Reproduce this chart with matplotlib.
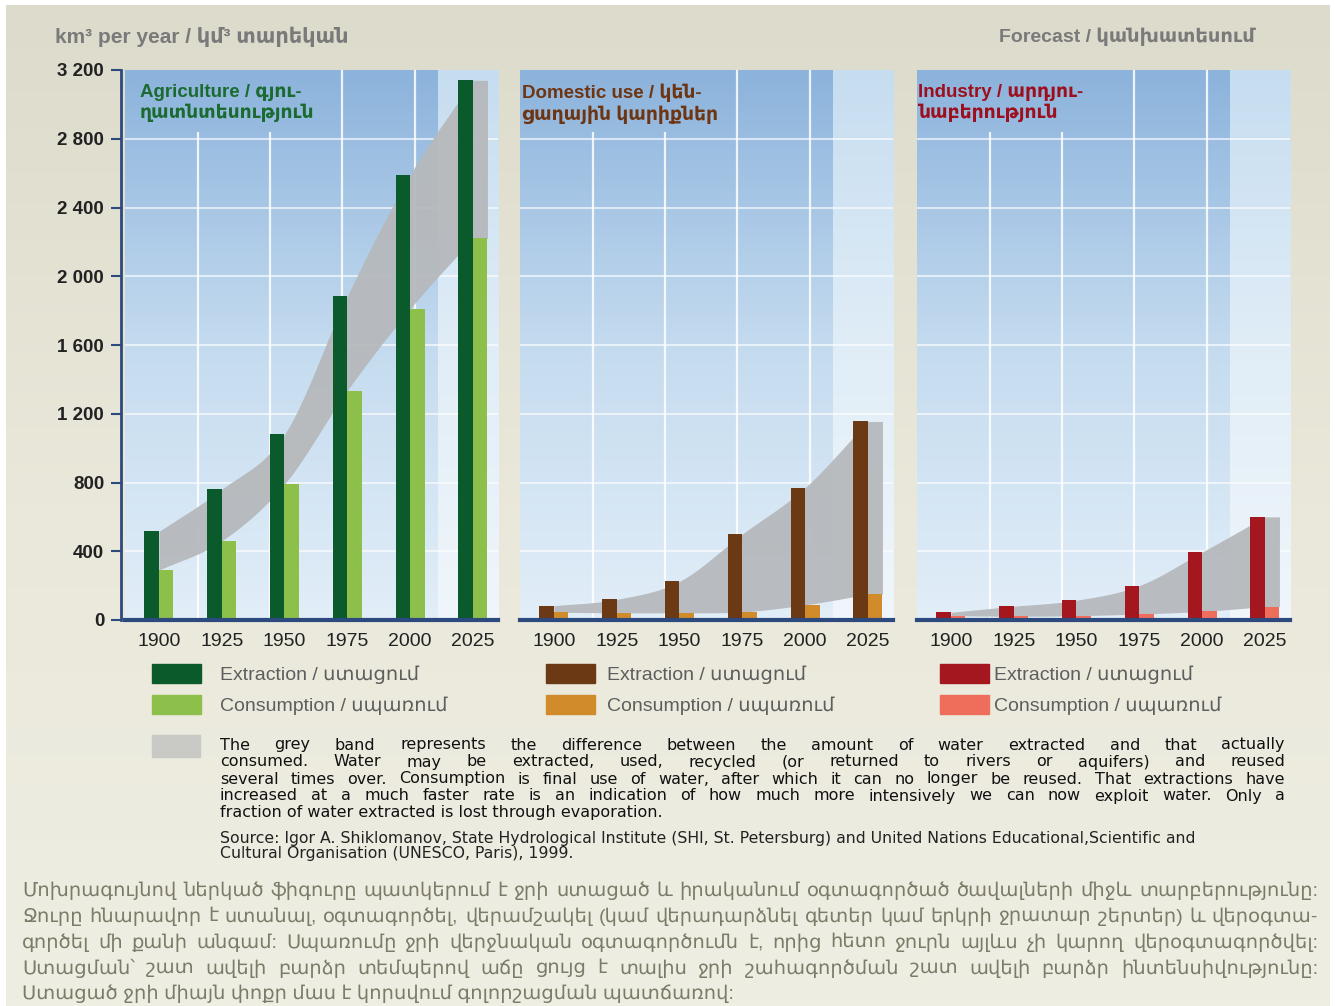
import matplotlib

matplotlib.use("Agg")
import matplotlib.pyplot as plt
import numpy as np
from matplotlib.colors import LinearSegmentedColormap
from matplotlib.patches import Patch, Rectangle

plt.rcParams["font.family"] = ["Liberation Sans", "DejaVu Sans"]

W, H = 1335, 1006

# --- data (km3 per year) ---
YEARS = [1900, 1925, 1950, 1975, 2000, 2025]
AGRI_EXTRACTION = [515, 760, 1080, 1885, 2590, 3140]
AGRI_CONSUMPTION = [290, 460, 790, 1335, 1810, 2220]
DOM_EXTRACTION = [83, 120, 225, 500, 770, 1155]
DOM_CONSUMPTION = [45, 42, 42, 47, 88, 150]
IND_EXTRACTION = [45, 80, 115, 200, 395, 600]
IND_CONSUMPTION = [25, 22, 25, 35, 50, 78]
Y_TICKS = [0, 400, 800, 1200, 1600, 2000, 2400, 2800, 3200]

PANEL_TITLES = [
    "Agriculture / գյու-\nղատնտեսություն",
    "Domestic use / կեն-\nցաղային կարիքներ",
    "Industry / արդյու-\nնաբերություն",
]
LEGEND_LABELS = ["Extraction / ստացում", "Consumption / սպառում"]

NOTE_LINES = [
    "The grey band represents the difference between the amount of water extracted and that actually",
    "consumed. Water may be extracted, used, recycled (or returned to rivers or aquifers) and reused",
    "several times over. Consumption is final use of water, after which it can no longer be reused. That extractions have",
    "increased at a much faster rate is an indication of how much more intensively we can now exploit water. Only a",
    "fraction of water extracted is lost through evaporation.",
]
SOURCE_LINES = [
    "Source: Igor A. Shiklomanov, State Hydrological Institute (SHI, St. Petersburg) and United Nations Educational,Scientific and",
    "Cultural Organisation (UNESCO, Paris), 1999.",
]
ARM_LINES = [
    "Մոխրագույնով ներկած ֆիգուրը պատկերում է ջրի ստացած և իրականում օգտագործած ծավալների միջև տարբերությունը:",
    "Ջուրը հնարավոր է ստանալ, օգտագործել, վերամշակել (կամ վերադարձնել գետեր կամ երկրի ջրատար շերտեր) և վերօգտա-",
    "գործել մի քանի անգամ: Սպառումը ջրի վերջնական օգտագործումն է, որից հետո ջուրն այլևս չի կարող վերօգտագործվել:",
    "Ստացման՝ շատ ավելի բարձր տեմպերով աճը ցույց է տալիս ջրի շահագործման շատ ավելի բարձր ինտենսիվությունը:",
    "Ստացած ջրի միայն փոքր մաս է կորսվում գոլորշացման պատճառով:",
]

PANELS = [
    (AGRI_EXTRACTION, AGRI_CONSUMPTION, "#0b5a2c", "#8dc04b", "#1b6b31"),
    (DOM_EXTRACTION, DOM_CONSUMPTION, "#6b3914", "#d18b2a", "#6e3512"),
    (IND_EXTRACTION, IND_CONSUMPTION, "#a5171e", "#ef6e5b", "#9e0f1d"),
]

NAVY = "#2c4a7e"
BAND = "#b6b9bc"
XMIN, XMAX, FORECAST_X = 1886.5, 2035, 2011
GRID_X_SHORT = [1915.5, 1944.3]   # stop below the panel title
GRID_X_FULL = [1973.0, 2002.0]
BAR_W = 5.8


def smooth(xs, ys, n=30):
    """Cubic Hermite (Catmull-Rom tangents) curve through the points, for the band."""
    xs, ys = np.asarray(xs, float), np.asarray(ys, float)
    m = np.gradient(ys, xs)
    out_x, out_y = [], []
    for i in range(len(xs) - 1):
        h = xs[i + 1] - xs[i]
        t = np.linspace(0, 1, n, endpoint=False)
        h00 = 2 * t**3 - 3 * t**2 + 1
        h10 = t**3 - 2 * t**2 + t
        h01 = -2 * t**3 + 3 * t**2
        h11 = t**3 - t**2
        out_x.append(xs[i] + t * h)
        out_y.append(h00 * ys[i] + h10 * h * m[i] + h01 * ys[i + 1] + h11 * h * m[i + 1])
    out_x.append([xs[-1]])
    out_y.append([ys[-1]])
    return np.concatenate(out_x), np.concatenate(out_y)


def justified(fig, lines, x0, x1, y, step, **kw):
    renderer = fig.canvas.get_renderer()
    for i, line in enumerate(lines):
        yy = (H - y - i * step) / H
        if i == len(lines) - 1:
            fig.text(x0 / W, yy, line, va="center", **kw)
            continue
        words = line.split()
        arts = [fig.text(0, yy, w_, va="center", **kw) for w_ in words]
        widths = [a.get_window_extent(renderer).width for a in arts]
        gap = (x1 - x0 - sum(widths)) / (len(words) - 1)
        x = x0
        for a, wd in zip(arts, widths):
            a.set_x(x / W)
            x += wd + gap


fig = plt.figure(figsize=(W / 100, H / 100), dpi=100)
fig.patch.set_facecolor("white")

bg = fig.add_axes([6 / W, 0, 1 - 11 / W, 1 - 5 / H])
bg.set_zorder(-10)
beige = LinearSegmentedColormap.from_list("beige", ["#efeee3", "#e9e8da", "#dddbcb"])
bg.imshow(np.linspace(0, 1, 256).reshape(-1, 1), cmap=beige, aspect="auto",
          origin="lower", extent=[0, 1, 0, 1])
bg.axis("off")

blue = LinearSegmentedColormap.from_list("blue", ["#e2eef8", "#c4dbef", "#8cb3dc"])
light = LinearSegmentedColormap.from_list("light", ["#f0f6fb", "#e0edf7", "#c6ddf0"])
grad = np.linspace(0, 1, 256).reshape(-1, 1)

lefts = [125, 520, 917]
title_x = [0.04, 0.006, 0.004]
for k, (ext, cons, c_ext, c_cons, c_title) in enumerate(PANELS):
    ax = fig.add_axes([lefts[k] / W, (H - 620) / H, 373 / W, 550 / H])
    ax.imshow(grad, cmap=blue, aspect="auto", origin="lower",
              extent=[XMIN, FORECAST_X, 0, 3200], zorder=0)
    ax.imshow(grad, cmap=light, aspect="auto", origin="lower",
              extent=[FORECAST_X, XMAX, 0, 3200], zorder=0)
    ax.set_xlim(XMIN, XMAX)
    ax.set_ylim(0, 3200)
    ax.hlines(Y_TICKS[1:-1], XMIN, XMAX, color="white", lw=1.4, alpha=0.65, zorder=1)
    ax.vlines(GRID_X_SHORT, 0, 2840, color="white", lw=1.6, alpha=0.85, zorder=1)
    ax.vlines(GRID_X_FULL, 0, 3200, color="white", lw=1.6, alpha=0.85, zorder=1)

    bx, top = smooth(YEARS, ext)
    _, bot = smooth(YEARS, cons)
    bx = np.append(bx, YEARS[-1] + BAR_W)
    top = np.append(top, ext[-1])
    bot = np.append(bot, cons[-1])
    ax.fill_between(bx, bot, top, color=BAND, alpha=0.95, lw=0, zorder=2)

    xs = np.array(YEARS, float)
    ax.bar(xs - BAR_W / 2, ext, width=BAR_W, color=c_ext, zorder=3)
    ax.bar(xs + BAR_W / 2, cons, width=BAR_W, color=c_cons, zorder=3)

    ax.text(title_x[k], 0.975, PANEL_TITLES[k], transform=ax.transAxes, va="top", ha="left",
            fontsize=13.5, fontweight="bold", color=c_title, linespacing=1.2, zorder=5)

    for s in ("top", "right"):
        ax.spines[s].set_visible(False)
    ax.spines["bottom"].set_color(NAVY)
    ax.spines["bottom"].set_linewidth(3)
    ax.spines["bottom"].set_zorder(6)
    ax.set_xticks(YEARS)
    ax.tick_params(axis="x", length=0, pad=9, labelsize=14, labelcolor="#222222")
    if k == 0:
        ax.spines["left"].set_color(NAVY)
        ax.spines["left"].set_linewidth(2)
        ax.spines["left"].set_position(("outward", 3))
        ax.set_yticks(Y_TICKS)
        ax.set_yticklabels([f"{v:,}".replace(",", " ") for v in Y_TICKS])
        ax.tick_params(axis="y", length=7, width=1.5, color=NAVY, pad=5,
                       labelsize=13.5, labelcolor="#222222")
        for lab in ax.get_yticklabels():
            lab.set_fontweight("bold")
    else:
        ax.spines["left"].set_visible(False)
        ax.set_yticks([])

    fig.legend(
        handles=[Patch(color=c_ext), Patch(color=c_cons)],
        labels=LEGEND_LABELS,
        loc="upper left",
        bbox_to_anchor=([152, 546, 940][k] / W, 1 - 664 / H),
        frameon=False,
        fontsize=14,
        labelcolor="#5e5e5e",
        handlelength=2.5,
        handleheight=1.15,
        handletextpad=[1.0, 0.65, 0.3][k],
        labelspacing=0.55,
        borderpad=0,
        borderaxespad=0,
    )

fig.text(55 / W, 1 - 37 / H, "km³ per year / կմ³ տարեկան", fontsize=15,
         fontweight="bold", color="#7a7a7a", va="center", ha="left")
fig.text(1255 / W, 1 - 37 / H, "Forecast / կանխատեսում", fontsize=14,
         fontweight="bold", color="#7a7a7a", va="center", ha="right")

fig.patches.append(Rectangle((152 / W, 1 - 757 / H), 48 / W, 22 / H,
                             transform=fig.transFigure, color="#c9c9c5", zorder=3))
justified(fig, NOTE_LINES, 220, 1285, 745, 17, fontsize=11.5, color="#111111",
          family="DejaVu Sans")
for i, line in enumerate(SOURCE_LINES):
    fig.text(220 / W, 1 - (839 + i * 14.5) / H, line, fontsize=11.3,
             color="#222222", va="center", family="DejaVu Sans")

justified(fig, ARM_LINES, 22, 1318, 891, 25.8, fontsize=14, color="#7c7b68")

fig.savefig("out.png", dpi=100, facecolor=fig.get_facecolor())
